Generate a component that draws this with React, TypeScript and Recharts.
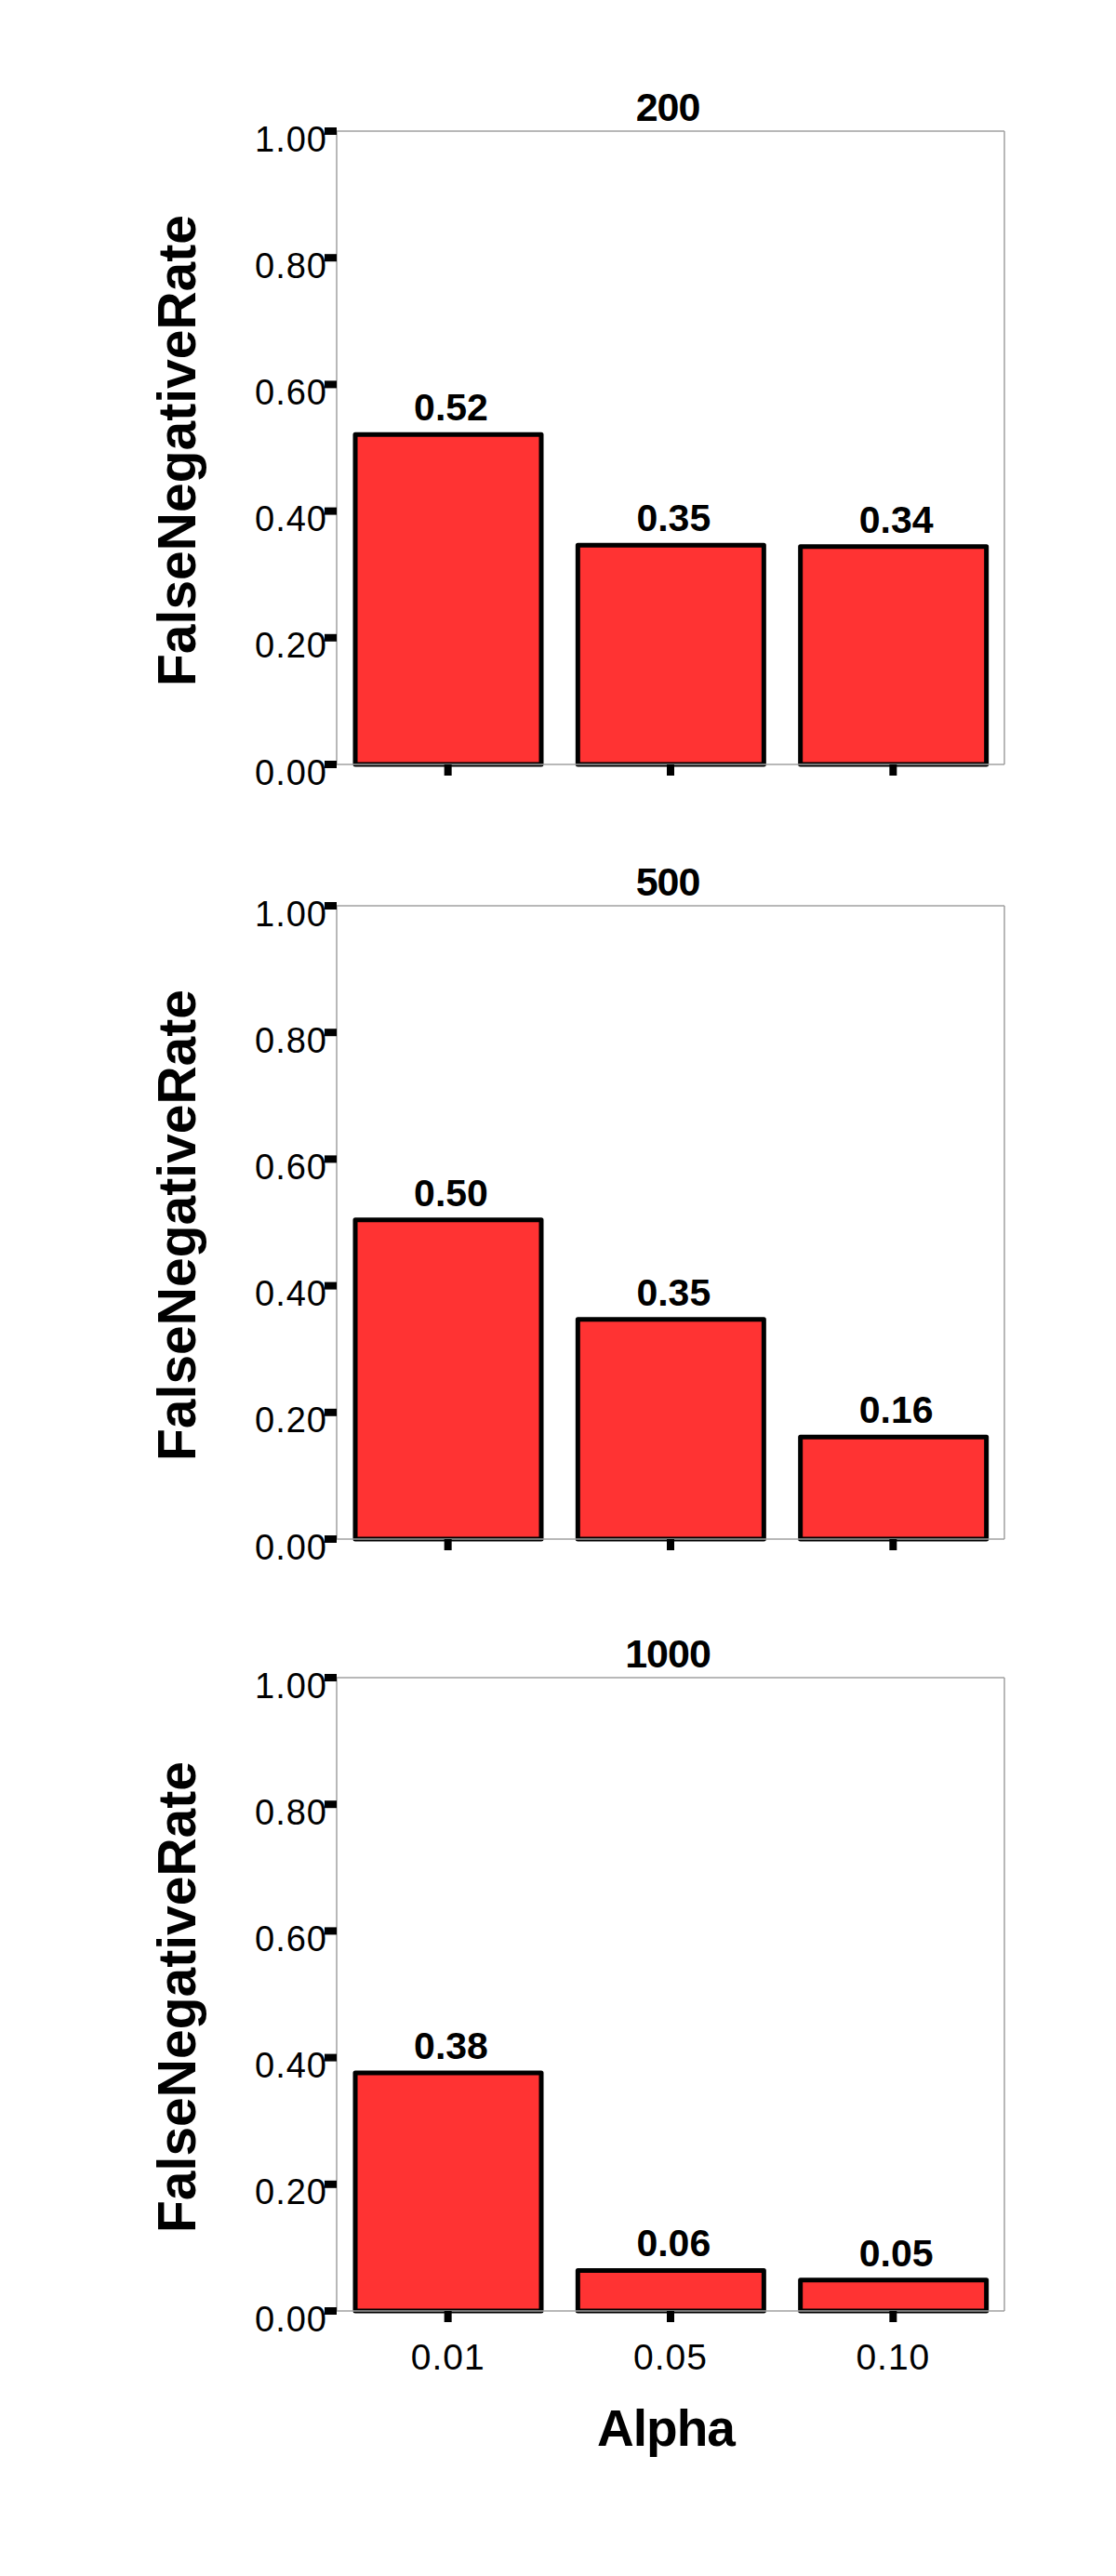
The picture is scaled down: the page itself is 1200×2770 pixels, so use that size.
import React from 'react';
import { BarChart, Bar, XAxis, YAxis, LabelList, Label } from 'recharts';

// ---- data ----
const alphaLabels = ['0.01', '0.05', '0.10'];
const sampleSizes = ['200', '500', '1000'];
const fnr200 = [0.521, 0.346, 0.344];
const fnr500 = [0.504, 0.347, 0.161];
const fnr1000 = [0.376, 0.064, 0.049];
const yTicks = [0, 0.2, 0.4, 0.6, 0.8, 1.0];
const yLabelText = 'FalseNegativeRate';
const xLabelText = 'Alpha';

const FONT = '"Liberation Sans", Arial, Helvetica, sans-serif';
const AXIS_GRAY = '#a0a0a0';
const BAR_RED = '#ff3333';

const YTick = (props: any) => {
  const { x, y, payload } = props;
  return (
    <text x={x} y={y + 8} dy="0.36em" textAnchor="end" fontSize={38} letterSpacing={1} fontFamily={FONT} fill="#000">
      {Number(payload.value).toFixed(2)}
    </text>
  );
};

const XTick = (props: any) => {
  const { x, y, payload } = props;
  return (
    <text x={x} y={y} dy="0.72em" textAnchor="middle" fontSize={39} letterSpacing={1} fontFamily={FONT} fill="#000">
      {payload.value}
    </text>
  );
};

const EmptyTick = () => <g />;

const ValueLabel = (props: any) => {
  const { x, y, width, value } = props;
  return (
    <text x={x + width / 2 + 3} y={y - 15} textAnchor="middle" fontSize={41} fontWeight="bold" fontFamily={FONT} fill="#000">
      {Number(value).toFixed(2)}
    </text>
  );
};

type PanelProps = {
  title: string;
  values: number[];
  showX: boolean;
  top: number;
  height: number;
};

const Panel = ({ title, values, showX, top, height }: PanelProps) => {
  const data = alphaLabels.map((a, i) => ({ alpha: a, fnr: values[i] }));
  const xAxisHeight = showX ? 200 : 40;
  const bottom = height - 141 - 681 - xAxisHeight;
  return (
    <div style={{ position: 'absolute', left: 0, top }}>
      <BarChart
        width={1200}
        height={height}
        data={data}
        margin={{ top: 140, right: 119, left: 0, bottom }}
      >
        <XAxis
          dataKey="alpha"
          type="category"
          height={xAxisHeight}
          axisLine={{ stroke: AXIS_GRAY, strokeWidth: 1.5 }}
          tickLine={{ stroke: '#000', strokeWidth: 8 }}
          tickSize={12}
          tickMargin={23}
          tick={showX ? <XTick /> : <EmptyTick />}
          interval={0}
        >
          {showX && (
            <Label
              content={(p: any) => {
                const vb = p.viewBox || { x: 362, y: 822, width: 718, height: 200 };
                return (
                  <text
                    x={vb.x + vb.width / 2 - 5}
                    y={vb.y + 145}
                    textAnchor="middle"
                    fontSize={55}
                    fontWeight="bold"
                    fontFamily={FONT}
                    letterSpacing={-1}
                    fill="#000"
                  >
                    {xLabelText}
                  </text>
                );
              }}
            />
          )}
        </XAxis>
        <XAxis
          xAxisId="top"
          dataKey="alpha"
          type="category"
          orientation="top"
          height={1}
          axisLine={{ stroke: AXIS_GRAY, strokeWidth: 1.5 }}
          tickLine={false}
          tick={false}
        >
          <Label
            content={(p: any) => {
              const vb = p.viewBox || { x: 362, y: 140, width: 718, height: 1 };
              return (
                <text
                  x={vb.x + vb.width / 2 - 3}
                  y={vb.y + vb.height - 11}
                  textAnchor="middle"
                  fontSize={43}
                  fontWeight="bold"
                  fontFamily={FONT}
                  letterSpacing={-1}
                  fill="#000"
                >
                  {title}
                </text>
              );
            }}
          />
        </XAxis>
        <YAxis
          type="number"
          domain={[0, 1]}
          ticks={yTicks}
          width={362}
          axisLine={{ stroke: AXIS_GRAY, strokeWidth: 1.5 }}
          tickLine={{ stroke: '#000', strokeWidth: 8 }}
          tickSize={13}
          tickMargin={-3}
          tick={<YTick />}
          interval={0}
        >
          <Label
            content={(p: any) => {
              const vb = p.viewBox || { x: 0, y: 141, width: 362, height: 681 };
              const cx = vb.x + 210;
              const cy = vb.y + vb.height / 2 + 3;
              return (
                <text
                  transform={`translate(${cx},${cy}) rotate(-90)`}
                  textAnchor="middle"
                  fontSize={57}
                  fontWeight="bold"
                  fontFamily={FONT}
                  fill="#000"
                >
                  {yLabelText}
                </text>
              );
            }}
          />
        </YAxis>
        <YAxis
          yAxisId="right"
          type="number"
          orientation="right"
          domain={[0, 1]}
          width={1}
          axisLine={{ stroke: AXIS_GRAY, strokeWidth: 1.5 }}
          tickLine={false}
          tick={false}
        />
        <Bar
          dataKey="fnr"
          fill={BAR_RED}
          stroke="#000"
          strokeWidth={5}
          strokeLinejoin="round"
          barSize={200}
          isAnimationActive={false}
        >
          <LabelList dataKey="fnr" content={<ValueLabel />} />
        </Bar>
      </BarChart>
    </div>
  );
};

export default function App() {
  return (
    <div style={{ position: 'absolute', left: 0, top: 0, width: 1200, height: 2770, background: '#fff' }}>
      <Panel title={sampleSizes[0]} values={fnr200} showX={false} top={0} height={900} />
      <Panel title={sampleSizes[1]} values={fnr500} showX={false} top={833} height={900} />
      <Panel title={sampleSizes[2]} values={fnr1000} showX={true} top={1663} height={1107} />
    </div>
  );
}
